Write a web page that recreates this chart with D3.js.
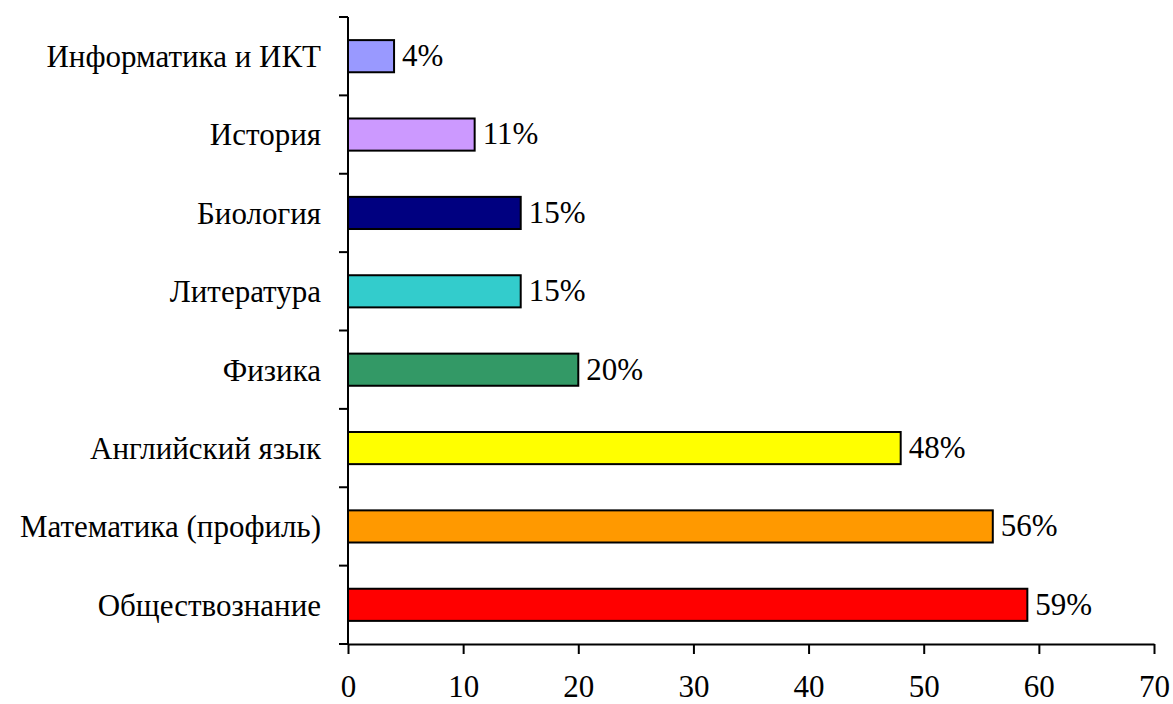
<!DOCTYPE html>
<html>
<head>
<meta charset="utf-8">
<script src="https://cdn.jsdelivr.net/npm/d3@7"></script>
<style>
body{margin:0;background:#fff;}
.axis path,.axis line{stroke:#000;stroke-width:2px;}
.bar{stroke:#000;stroke-width:2px;}
</style>
</head>
<body>
<div id="chart"></div>
<script>
const subjects=['Информатика и ИКТ','История','Биология','Литература','Физика','Английский язык','Математика (профиль)','Обществознание'];
const values=[4,11,15,15,20,48,56,59];
const colors=['#9999FF','#CC99FF','#000080','#33CCCC','#339966','#FFFF00','#FF9900','#FF0000'];
const xTicks=[0,10,20,30,40,50,60,70];

const FONT='Liberation Serif';
const FS=31;

const margin={top:17,right:19,bottom:60,left:348},
      W=1173-margin.left-margin.right,
      H=704-margin.top-margin.bottom;

const svg=d3.select('#chart').append('svg')
  .attr('width',1173).attr('height',704)
  .attr('font-family',FONT);
const g=svg.append('g').attr('transform',`translate(${margin.left},${margin.top})`);

const x=d3.scaleLinear().domain([0,70]).range([0,W]);
const y=d3.scaleBand().domain(subjects).range([0,H]).paddingInner(0.59).paddingOuter(0.295);

const data=subjects.map((s,i)=>({s,v:values[i],c:colors[i]}));

g.selectAll('.bar').data(data).enter().append('rect')
  .attr('class','bar')
  .attr('x',x(0)).attr('y',d=>y(d.s))
  .attr('width',d=>x(d.v)-x(0)).attr('height',y.bandwidth())
  .attr('fill',d=>d.c);

g.selectAll('.val').data(data).enter().append('text')
  .attr('class','val')
  .attr('x',d=>x(d.v)+8).attr('y',d=>y(d.s)+y.bandwidth()/2)
  .attr('dy','0.32em').attr('font-size',FS).attr('font-family',FONT)
  .text(d=>d.v+'%');

// x axis
const xa=g.append('g').attr('class','axis').attr('transform',`translate(0,${H})`)
  .call(d3.axisBottom(x).tickValues(xTicks).tickSize(10).tickSizeOuter(0));
xa.attr('font-family',FONT).attr('font-size',FS);
xa.selectAll('text').attr('y',53).attr('dy',0);

// y axis: line with ticks between categories
const ya=g.append('g').attr('class','axis');
ya.append('line').attr('x1',0).attr('x2',0).attr('y1',0).attr('y2',H);
const bounds=d3.range(subjects.length+1).map(i=>i*H/subjects.length);
ya.selectAll('.yt').data(bounds).enter().append('line')
  .attr('x1',-9).attr('x2',0).attr('y1',d=>d).attr('y2',d=>d);
ya.selectAll('.ylab').data(subjects).enter().append('text')
  .attr('x',-27).attr('y',d=>y(d)+y.bandwidth()/2)
  .attr('dy','0.35em').attr('text-anchor','end')
  .attr('font-size',FS).attr('font-family',FONT)
  .text(d=>d);
</script>
</body>
</html>
